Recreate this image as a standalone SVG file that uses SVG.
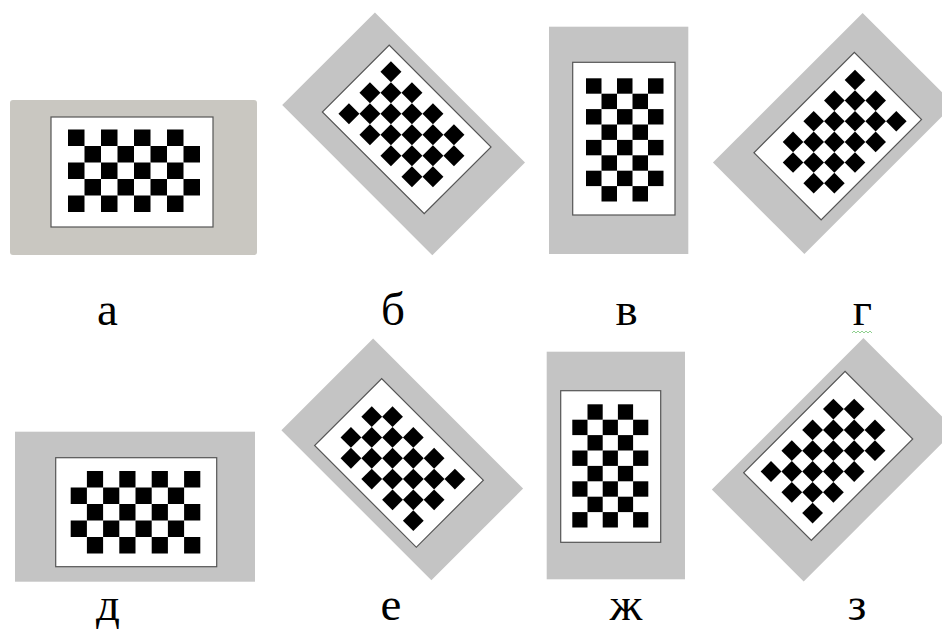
<svg xmlns="http://www.w3.org/2000/svg" width="942" height="630" viewBox="0 0 942 630">
<style>
.bg{fill:#c4c4c4}
.bgw{fill:#c9c7c1}
.wh{fill:#ffffff;stroke:#555555;stroke-width:1.2}
.k{fill:#000000}
.lb{font-family:"Liberation Serif","Times New Roman",serif;font-size:47px;fill:#000000;text-anchor:middle}
</style>
<rect width="942" height="630" fill="#ffffff"/>

<g id="panel-a">
<rect class="bgw" x="10" y="100" width="247" height="155" rx="3"/>
<rect class="wh" x="51" y="117" width="162" height="110"/>
<g class="k">
<rect x="68" y="129.5" width="16.5" height="16.5"/><rect x="101" y="129.5" width="16.5" height="16.5"/><rect x="134" y="129.5" width="16.5" height="16.5"/><rect x="167" y="129.5" width="16.5" height="16.5"/>
<rect x="84.5" y="146" width="16.5" height="16.5"/><rect x="117.5" y="146" width="16.5" height="16.5"/><rect x="150.5" y="146" width="16.5" height="16.5"/><rect x="183.5" y="146" width="16.5" height="16.5"/>
<rect x="68" y="162.5" width="16.5" height="16.5"/><rect x="101" y="162.5" width="16.5" height="16.5"/><rect x="134" y="162.5" width="16.5" height="16.5"/><rect x="167" y="162.5" width="16.5" height="16.5"/>
<rect x="84.5" y="179" width="16.5" height="16.5"/><rect x="117.5" y="179" width="16.5" height="16.5"/><rect x="150.5" y="179" width="16.5" height="16.5"/><rect x="183.5" y="179" width="16.5" height="16.5"/>
<rect x="68" y="195.5" width="16.5" height="16.5"/><rect x="101" y="195.5" width="16.5" height="16.5"/><rect x="134" y="195.5" width="16.5" height="16.5"/><rect x="167" y="195.5" width="16.5" height="16.5"/>
</g>
<text class="lb" x="107.5" y="325">а</text>
</g>

<g id="panel-b">
<g transform="translate(406.7,129.4) rotate(45)">
<rect class="bg" x="-105.2" y="-60.25" width="212.3" height="131.1"/>
<rect class="wh" x="-72" y="-47.25" width="144" height="94.5"/>
<g class="k">
<rect x="-59.4" y="-37.1" width="14.85" height="14.85"/><rect x="-29.7" y="-37.1" width="14.85" height="14.85"/><rect x="0" y="-37.1" width="14.85" height="14.85"/><rect x="29.7" y="-37.1" width="14.85" height="14.85"/>
<rect x="-44.55" y="-22.25" width="14.85" height="14.85"/><rect x="-14.85" y="-22.25" width="14.85" height="14.85"/><rect x="14.85" y="-22.25" width="14.85" height="14.85"/><rect x="44.55" y="-22.25" width="14.85" height="14.85"/>
<rect x="-59.4" y="-7.4" width="14.85" height="14.85"/><rect x="-29.7" y="-7.4" width="14.85" height="14.85"/><rect x="0" y="-7.4" width="14.85" height="14.85"/><rect x="29.7" y="-7.4" width="14.85" height="14.85"/>
<rect x="-44.55" y="7.45" width="14.85" height="14.85"/><rect x="-14.85" y="7.45" width="14.85" height="14.85"/><rect x="14.85" y="7.45" width="14.85" height="14.85"/><rect x="44.55" y="7.45" width="14.85" height="14.85"/>
<rect x="-59.4" y="22.3" width="14.85" height="14.85"/><rect x="-29.7" y="22.3" width="14.85" height="14.85"/><rect x="0" y="22.3" width="14.85" height="14.85"/><rect x="29.7" y="22.3" width="14.85" height="14.85"/>
</g>
</g>
<text class="lb" x="393" y="325">б</text>
</g>

<g id="panel-v">
<rect class="bg" x="549" y="26.7" width="139.3" height="227.3"/>
<rect class="wh" x="572.7" y="62.3" width="102.3" height="152.7"/>
<g class="k">
<rect x="586" y="78.3" width="15.5" height="15.4"/><rect x="617" y="78.3" width="15.5" height="15.4"/><rect x="648" y="78.3" width="15.5" height="15.4"/>
<rect x="601.5" y="93.7" width="15.5" height="15.4"/><rect x="632.5" y="93.7" width="15.5" height="15.4"/>
<rect x="586" y="109.1" width="15.5" height="15.4"/><rect x="617" y="109.1" width="15.5" height="15.4"/><rect x="648" y="109.1" width="15.5" height="15.4"/>
<rect x="601.5" y="124.5" width="15.5" height="15.4"/><rect x="632.5" y="124.5" width="15.5" height="15.4"/>
<rect x="586" y="139.9" width="15.5" height="15.4"/><rect x="617" y="139.9" width="15.5" height="15.4"/><rect x="648" y="139.9" width="15.5" height="15.4"/>
<rect x="601.5" y="155.3" width="15.5" height="15.4"/><rect x="632.5" y="155.3" width="15.5" height="15.4"/>
<rect x="586" y="170.7" width="15.5" height="15.4"/><rect x="617" y="170.7" width="15.5" height="15.4"/><rect x="648" y="170.7" width="15.5" height="15.4"/>
<rect x="601.5" y="186.1" width="15.5" height="15.4"/><rect x="632.5" y="186.1" width="15.5" height="15.4"/>
</g>
<text class="lb" x="626.5" y="325">в</text>
</g>

<g id="panel-g">
<g transform="translate(837.75,136.1) rotate(-45)">
<rect class="bg" x="-107" y="-69.5" width="211.7" height="129.3"/>
<rect class="wh" x="-71" y="-47.5" width="142" height="95"/>
<g class="k">
<rect x="-43" y="-34.8" width="14.6" height="14.6"/><rect x="-13.8" y="-34.8" width="14.6" height="14.6"/><rect x="15.4" y="-34.8" width="14.6" height="14.6"/><rect x="44.6" y="-34.8" width="14.6" height="14.6"/>
<rect x="-57.6" y="-20.2" width="14.6" height="14.6"/><rect x="-28.4" y="-20.2" width="14.6" height="14.6"/><rect x="0.8" y="-20.2" width="14.6" height="14.6"/><rect x="30" y="-20.2" width="14.6" height="14.6"/>
<rect x="-43" y="-5.6" width="14.6" height="14.6"/><rect x="-13.8" y="-5.6" width="14.6" height="14.6"/><rect x="15.4" y="-5.6" width="14.6" height="14.6"/><rect x="44.6" y="-5.6" width="14.6" height="14.6"/>
<rect x="-57.6" y="9" width="14.6" height="14.6"/><rect x="-28.4" y="9" width="14.6" height="14.6"/><rect x="0.8" y="9" width="14.6" height="14.6"/><rect x="30" y="9" width="14.6" height="14.6"/>
<rect x="-43" y="23.6" width="14.6" height="14.6"/><rect x="-13.8" y="23.6" width="14.6" height="14.6"/><rect x="15.4" y="23.6" width="14.6" height="14.6"/><rect x="44.6" y="23.6" width="14.6" height="14.6"/>
</g>
</g>
<text class="lb" x="862.5" y="325">г</text>
<polyline points="852,333 854,331 856,333 858,331 860,333 862,331 864,333 866,331 868,333 870,331 872,333" fill="none" stroke="#8fd08f" stroke-width="1"/>
</g>

<g id="panel-d">
<rect class="bg" x="15" y="431.7" width="240" height="150"/>
<rect class="wh" x="55.7" y="457.7" width="161" height="109"/>
<g class="k">
<rect x="86.9" y="471" width="16.2" height="16.5"/><rect x="119.3" y="471" width="16.2" height="16.5"/><rect x="151.7" y="471" width="16.2" height="16.5"/><rect x="184.1" y="471" width="16.2" height="16.5"/>
<rect x="70.7" y="487.5" width="16.2" height="16.5"/><rect x="103.1" y="487.5" width="16.2" height="16.5"/><rect x="135.5" y="487.5" width="16.2" height="16.5"/><rect x="167.9" y="487.5" width="16.2" height="16.5"/>
<rect x="86.9" y="504" width="16.2" height="16.5"/><rect x="119.3" y="504" width="16.2" height="16.5"/><rect x="151.7" y="504" width="16.2" height="16.5"/><rect x="184.1" y="504" width="16.2" height="16.5"/>
<rect x="70.7" y="520.5" width="16.2" height="16.5"/><rect x="103.1" y="520.5" width="16.2" height="16.5"/><rect x="135.5" y="520.5" width="16.2" height="16.5"/><rect x="167.9" y="520.5" width="16.2" height="16.5"/>
<rect x="86.9" y="537" width="16.2" height="16.5"/><rect x="119.3" y="537" width="16.2" height="16.5"/><rect x="151.7" y="537" width="16.2" height="16.5"/><rect x="184.1" y="537" width="16.2" height="16.5"/>
</g>
<text class="lb" x="108" y="620">д</text>
</g>

<g id="panel-e">
<g transform="translate(399,462.9) rotate(45)">
<rect class="bg" x="-106.2" y="-69.6" width="212.1" height="129.7"/>
<rect class="wh" x="-71.9" y="-47.4" width="143.8" height="94.8"/>
<g class="k">
<rect x="-44.6" y="-35.45" width="14.7" height="14.7"/><rect x="-15.2" y="-35.45" width="14.7" height="14.7"/><rect x="14.2" y="-35.45" width="14.7" height="14.7"/><rect x="43.6" y="-35.45" width="14.7" height="14.7"/>
<rect x="-59.3" y="-20.75" width="14.7" height="14.7"/><rect x="-29.9" y="-20.75" width="14.7" height="14.7"/><rect x="-0.5" y="-20.75" width="14.7" height="14.7"/><rect x="28.9" y="-20.75" width="14.7" height="14.7"/>
<rect x="-44.6" y="-6.05" width="14.7" height="14.7"/><rect x="-15.2" y="-6.05" width="14.7" height="14.7"/><rect x="14.2" y="-6.05" width="14.7" height="14.7"/><rect x="43.6" y="-6.05" width="14.7" height="14.7"/>
<rect x="-59.3" y="8.65" width="14.7" height="14.7"/><rect x="-29.9" y="8.65" width="14.7" height="14.7"/><rect x="-0.5" y="8.65" width="14.7" height="14.7"/><rect x="28.9" y="8.65" width="14.7" height="14.7"/>
<rect x="-44.6" y="23.35" width="14.7" height="14.7"/><rect x="-15.2" y="23.35" width="14.7" height="14.7"/><rect x="14.2" y="23.35" width="14.7" height="14.7"/><rect x="43.6" y="23.35" width="14.7" height="14.7"/>
</g>
</g>
<text class="lb" x="391" y="620">е</text>
</g>

<g id="panel-zh">
<rect class="bg" x="546.7" y="351.7" width="138.3" height="227.6"/>
<rect class="wh" x="560.7" y="390.7" width="100" height="151.6"/>
<g class="k">
<rect x="587.5" y="404.3" width="15.2" height="15.4"/><rect x="617.9" y="404.3" width="15.2" height="15.4"/>
<rect x="572.3" y="419.7" width="15.2" height="15.4"/><rect x="602.7" y="419.7" width="15.2" height="15.4"/><rect x="633.1" y="419.7" width="15.2" height="15.4"/>
<rect x="587.5" y="435.1" width="15.2" height="15.4"/><rect x="617.9" y="435.1" width="15.2" height="15.4"/>
<rect x="572.3" y="450.5" width="15.2" height="15.4"/><rect x="602.7" y="450.5" width="15.2" height="15.4"/><rect x="633.1" y="450.5" width="15.2" height="15.4"/>
<rect x="587.5" y="465.9" width="15.2" height="15.4"/><rect x="617.9" y="465.9" width="15.2" height="15.4"/>
<rect x="572.3" y="481.3" width="15.2" height="15.4"/><rect x="602.7" y="481.3" width="15.2" height="15.4"/><rect x="633.1" y="481.3" width="15.2" height="15.4"/>
<rect x="587.5" y="496.7" width="15.2" height="15.4"/><rect x="617.9" y="496.7" width="15.2" height="15.4"/>
<rect x="572.3" y="512.1" width="15.2" height="15.4"/><rect x="602.7" y="512.1" width="15.2" height="15.4"/><rect x="633.1" y="512.1" width="15.2" height="15.4"/>
</g>
<text class="lb" x="626" y="620">ж</text>
</g>

<g id="panel-z">
<g transform="translate(828.2,455.9) rotate(-45)">
<rect class="bg" x="-106.1" y="-58.45" width="214.4" height="129.9"/>
<rect class="wh" x="-71.7" y="-47.85" width="143.4" height="95.7"/>
<g class="k">
<rect x="-58.8" y="-36.75" width="14.7" height="14.7"/><rect x="-29.4" y="-36.75" width="14.7" height="14.7"/><rect x="0" y="-36.75" width="14.7" height="14.7"/><rect x="29.4" y="-36.75" width="14.7" height="14.7"/>
<rect x="-44.1" y="-22.05" width="14.7" height="14.7"/><rect x="-14.7" y="-22.05" width="14.7" height="14.7"/><rect x="14.7" y="-22.05" width="14.7" height="14.7"/><rect x="44.1" y="-22.05" width="14.7" height="14.7"/>
<rect x="-58.8" y="-7.35" width="14.7" height="14.7"/><rect x="-29.4" y="-7.35" width="14.7" height="14.7"/><rect x="0" y="-7.35" width="14.7" height="14.7"/><rect x="29.4" y="-7.35" width="14.7" height="14.7"/>
<rect x="-44.1" y="7.35" width="14.7" height="14.7"/><rect x="-14.7" y="7.35" width="14.7" height="14.7"/><rect x="14.7" y="7.35" width="14.7" height="14.7"/><rect x="44.1" y="7.35" width="14.7" height="14.7"/>
<rect x="-58.8" y="22.05" width="14.7" height="14.7"/><rect x="-29.4" y="22.05" width="14.7" height="14.7"/><rect x="0" y="22.05" width="14.7" height="14.7"/><rect x="29.4" y="22.05" width="14.7" height="14.7"/>
</g>
</g>
<text class="lb" x="857" y="620">з</text>
</g>
</svg>
